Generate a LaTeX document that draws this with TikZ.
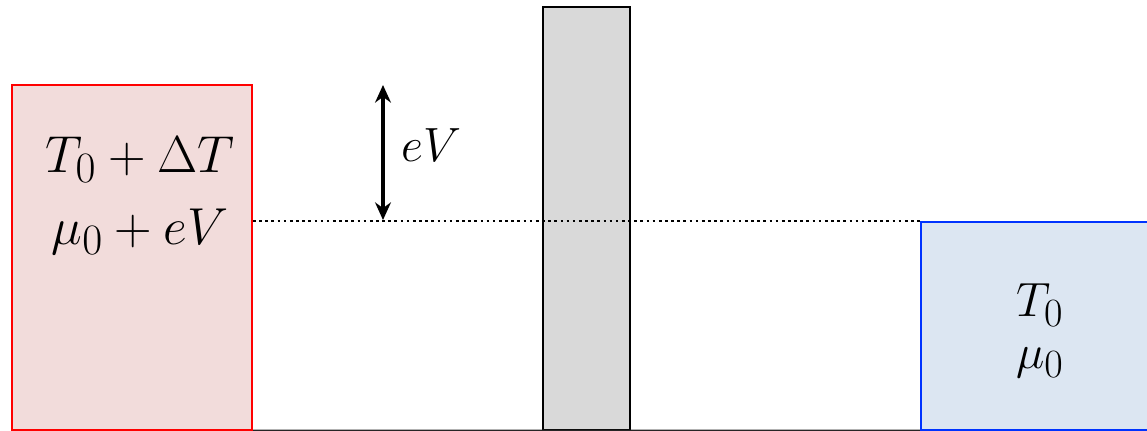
\documentclass[tikz,border=0pt]{standalone}
\usepackage{amsmath}
\usepackage{graphicx}
\usepackage{tikz}
\usetikzlibrary{arrows.meta,positioning,calc}
\usepackage{xcolor}
\definecolor{hotfill}{HTML}{F2DCDB}
\definecolor{coldfill}{HTML}{DCE6F2}
\definecolor{coldline}{HTML}{0033FF}
\definecolor{barfill}{HTML}{D9D9D9}
\newcommand{\biglbl}[2]{\scalebox{#1}{$#2$}}

\begin{document}
\begin{tikzpicture}[x=0.02cm, y=-0.02cm, every node/.style={font=\Huge}]
        \useasboundingbox (0,0) rectangle (1147,431);
        \clip (0,0) rectangle (1147,431);
        \node[draw=red, line width=1.2pt, fill=hotfill, minimum width=4.8cm, minimum height=6.9cm, inner sep=0pt] (hot) at (132,257.5) {};
        \node[draw=coldline, line width=1.2pt, fill=coldfill, minimum width=4.6cm, minimum height=4.16cm, inner sep=0pt] (cold) at (1036,326) {};
        \node[draw, line width=1.2pt, fill=barfill, minimum width=1.74cm, minimum height=8.46cm, inner sep=0pt] (barrier) at (586.5,218.5) {};
        \node (hotT) at (140,160) {\biglbl{1.19}{T_0 + \Delta T}};
        \node (hotmu) at (140,232) {\biglbl{1.19}{\mu_0 + eV}};
        \node (coldT) at (1040,305) {\biglbl{1.1}{T_0}};
        \node (coldmu) at (1040,363) {\biglbl{1.1}{\mu_0}};
        \draw[dotted, line width=1.5pt] (hot.east |- cold.north west) -- (cold.north west);
        \draw[line width=1.6pt, black!85] (hot.south east) -- (cold.south west);
        \coordinate (vtop) at (383,85);
        \coordinate (vbot) at (383,220);
        \draw[{Stealth[length=10pt,width=9pt]}-{Stealth[length=10pt,width=9pt]}, line width=2.3pt] (vtop) -- (vbot) node[midway, right=6pt, yshift=4pt] {\biglbl{1.1}{eV}};
    \end{tikzpicture}
\end{document}
